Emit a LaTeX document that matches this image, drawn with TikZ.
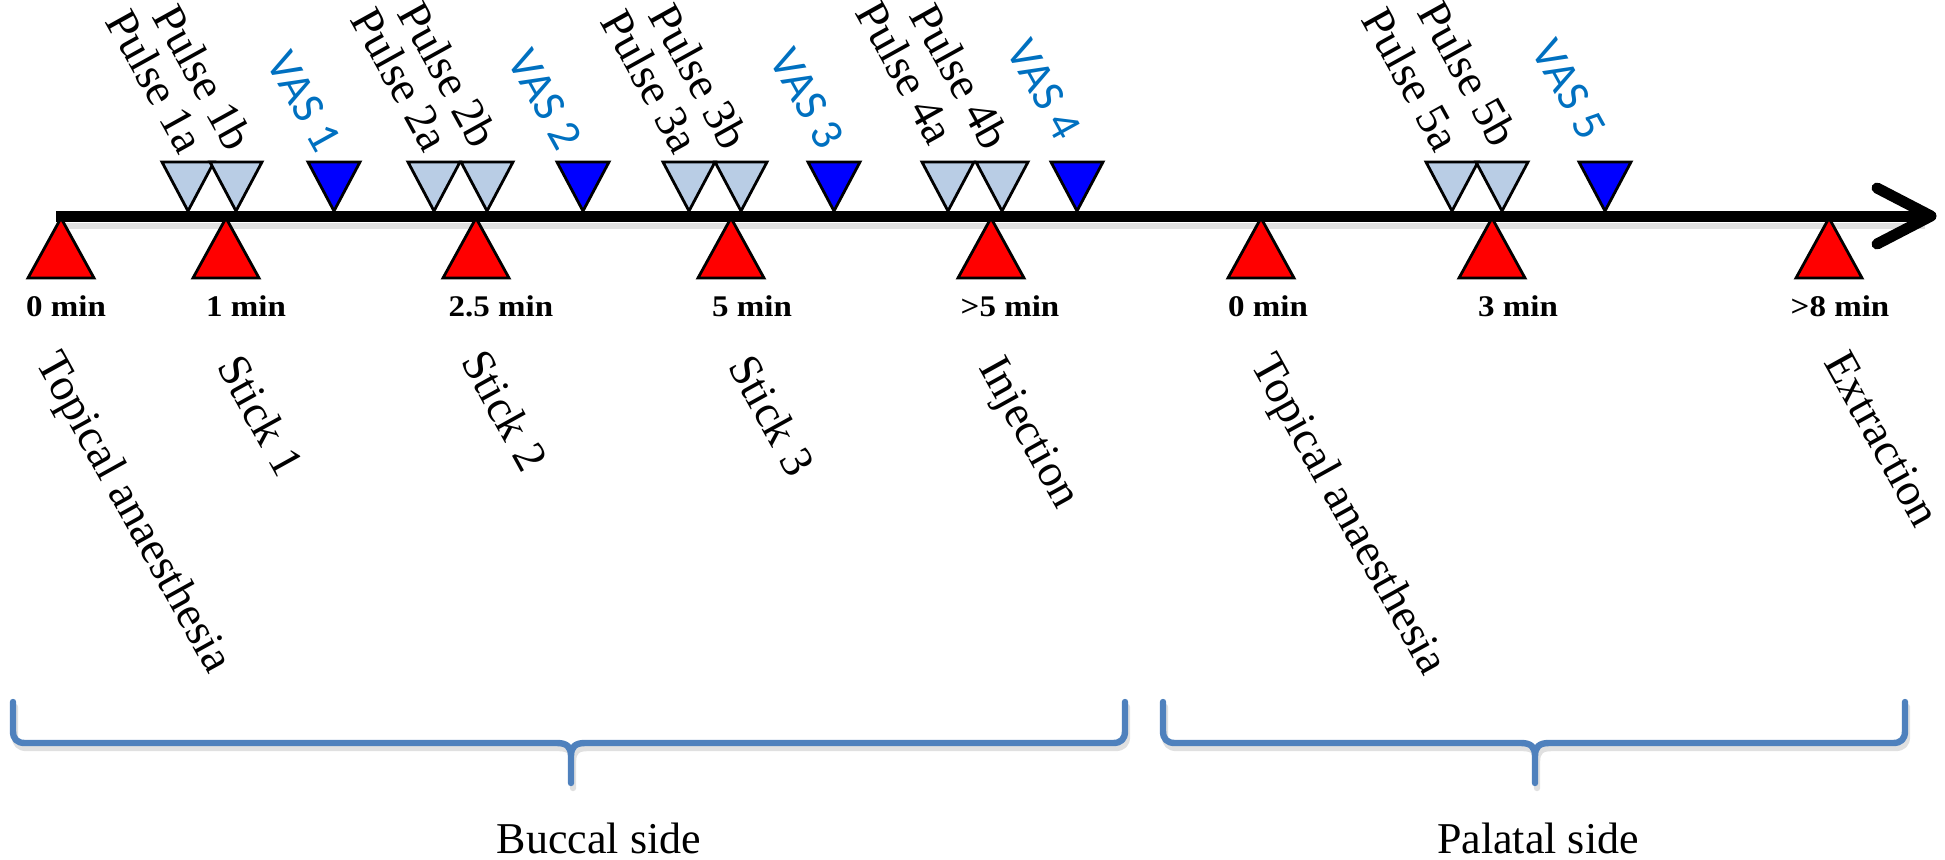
\documentclass[tikz,border=0pt]{standalone}
\usepackage{fontspec}
\setmainfont{Liberation Serif}
\newfontfamily\vasfont{Carlito}
\definecolor{lightblue}{RGB}{185,205,229}
\definecolor{vasblue}{RGB}{0,112,192}
\definecolor{braceblue}{RGB}{79,129,189}
\newcommand{\bracepath}[3]{(#1,702) -- (#1,731) .. controls (#1,739) and (#1+4,743) .. (#1+12,743) -- (#2-14,743) .. controls (#2-4,743) and (#2,747) .. (#2,756) .. controls (#2,747) and (#2+4,743) .. (#2+14,743) -- (#3-12,743) .. controls (#3-4,743) and (#3,739) .. (#3,731) -- (#3,702) (#2,756) -- (#2,783)}
\begin{document}
\begin{tikzpicture}[x=0.5pt,y=-0.5pt,
  redtri/.style={draw=black,fill=red,line width=1.4pt,line join=miter},
  lbtri/.style={draw=black,fill=lightblue,line width=1.4pt,line join=miter},
  dbtri/.style={draw=black,fill=blue,line width=1.4pt,line join=miter},
  toplab/.style={rotate=-61,anchor=base east,inner sep=0pt,font=\fontsize{23}{23}\selectfont},
  vaslab/.style={rotate=-61,anchor=base east,inner sep=0pt,font=\vasfont\fontsize{23}{23}\selectfont,text=vasblue},
  botlab/.style={rotate=-61,anchor=base west,inner sep=0pt,font=\fontsize{23}{23}\selectfont},
  timelab/.style={font=\bfseries\fontsize{15}{15}\selectfont,inner sep=0pt,xscale=1.1},
  sidelab/.style={anchor=base,inner sep=0pt,font=\fontsize{22}{22}\selectfont},
  axisline/.style={draw=black,line width=5.5pt},
  brace/.style={draw=braceblue,line width=3.2pt,line cap=round,line join=round},
  braceshadow/.style={draw=black!12,line width=3.2pt,line cap=round,line join=round},
]
\useasboundingbox (0,0) rectangle (1945,859);
% axis
\coordinate (ax0) at (56,216);
\coordinate (axend) at (1931,216);
\coordinate (armup) at (1877,188);
\coordinate (armdn) at (1877,244);
\draw[draw=black!12,line width=3pt] (60,226) -- (1925,226);
\draw[axisline] (ax0) -- (axend);
\draw[axisline,line cap=round,line join=round] (armup) -- (axend) -- (armdn);
% red triangles
\foreach \n/\x in {0/61,1/226,2/476,3/731,4/991,5/1261,6/1492,7/1829}{
  \coordinate (r\n) at (\x,218);
  \draw[redtri] (r\n) -- ++(33,60) -- ++(-66,0) -- cycle;
}
% light blue triangles
\foreach \n/\x in {1a/188,1b/236,2a/434,2b/487,3a/689,3b/741,4a/948,4b/1002,5a/1452,5b/1502}{
  \coordinate (p\n) at (\x,211);
  \draw[lbtri] (p\n) -- ++(26,-49) -- ++(-52,0) -- cycle;
}
% dark blue triangles
\foreach \n/\x in {1/334,2/583,3/834,4/1077,5/1605}{
  \coordinate (v\n) at (\x,211);
  \draw[dbtri] (v\n) -- ++(26,-49) -- ++(-52,0) -- cycle;
}
% time labels
\node[timelab] (t0) at (66,306) {0 min};
\node[timelab] (t1) at (246,306) {1 min};
\node[timelab] (t2) at (501,306) {2.5 min};
\node[timelab] (t3) at (752,306) {5 min};
\node[timelab] (t4) at (1010,306) {>5 min};
\node[timelab] (t5) at (1268,306) {0 min};
\node[timelab] (t6) at (1518,306) {3 min};
\node[timelab] (t7) at (1840,306) {>8 min};
% top labels
\node[toplab] (lp1a) at (180,157) {Pulse 1a};
\node[toplab] (lp1b) at (228,154) {Pulse 1b};
\node[vaslab] (lv1) at (317,155) {VAS 1};
\node[toplab] (lp2a) at (425,155) {Pulse 2a};
\node[toplab] (lp2b) at (473,151) {Pulse 2b};
\node[vaslab] (lv2) at (558,153) {VAS 2};
\node[toplab] (lp3a) at (675,157) {Pulse 3a};
\node[toplab] (lp3b) at (724,153) {Pulse 3b};
\node[vaslab] (lv3) at (820,152) {VAS 3};
\node[toplab] (lp4a) at (930,148) {Pulse 4a};
\node[toplab] (lp4b) at (985,153) {Pulse 4b};
\node[vaslab] (lv4) at (1057,143) {VAS 4};
\node[toplab] (lp5a) at (1436,155) {Pulse 5a};
\node[toplab] (lp5b) at (1493,150) {Pulse 5b};
\node[vaslab] (lv5) at (1582,143) {VAS 5};
% bottom labels
\node[botlab] (e0) at (35,362) {Topical anaesthesia};
\node[botlab] (e1) at (216,366) {Stick 1};
\node[botlab] (e2) at (460,361) {Stick 2};
\node[botlab] (e3) at (727,366) {Stick 3};
\node[botlab] (e4) at (978,367) {Injection};
\node[botlab] (e5) at (1250,364) {Topical anaesthesia};
\node[botlab] (e6) at (1823,362) {Extraction};
% braces
\draw[braceshadow,shift={(2,5)}] \bracepath{13}{571}{1125};
\draw[braceshadow,shift={(2,5)}] \bracepath{1163}{1535}{1905};
\draw[brace] \bracepath{13}{571}{1125};
\draw[brace] \bracepath{1163}{1535}{1905};
\node[sidelab] (buccal) at (599,853) {Buccal side};
\node[sidelab] (palatal) at (1538,853) {Palatal side};
\end{tikzpicture}
\end{document}
